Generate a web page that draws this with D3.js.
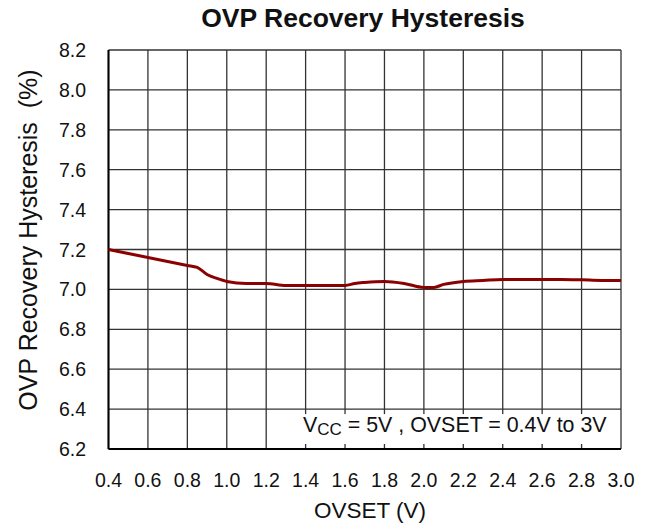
<!DOCTYPE html>
<html><head><meta charset="utf-8">
<script src="https://cdn.jsdelivr.net/npm/d3@7"></script>
<style>body{margin:0;background:#fff}svg{display:block}text{font-family:"Liberation Sans",Arial,sans-serif}</style>
</head><body>
<script>
const ovset = [0.4,0.5,0.6,0.7,0.75,0.8,0.85,0.9,0.95,1.0,1.1,1.2,1.3,1.4,1.5,1.6,1.65,1.7,1.8,1.9,2.0,2.05,2.1,2.2,2.3,2.4,2.5,2.6,2.7,2.8,2.9,3.0];
const hyst  = [7.20,7.18,7.16,7.14,7.13,7.12,7.11,7.075,7.055,7.04,7.03,7.03,7.02,7.02,7.02,7.02,7.03,7.035,7.04,7.03,7.01,7.01,7.025,7.04,7.045,7.05,7.05,7.05,7.05,7.048,7.045,7.045];
const xTicks = [0.4,0.6,0.8,1.0,1.2,1.4,1.6,1.8,2.0,2.2,2.4,2.6,2.8,3.0];
const yTicks = [6.2,6.4,6.6,6.8,7.0,7.2,7.4,7.6,7.8,8.0,8.2];

const W=653,H=529, L=108.5, R=621, T=50, B=449;
const svg=d3.select("body").append("svg").attr("width",W).attr("height",H);
const x=d3.scaleLinear().domain([0.4,3.0]).range([L,R]);
const y=d3.scaleLinear().domain([6.2,8.2]).range([B,T]);

// grid
svg.append("g").selectAll("line").data(xTicks).join("line")
  .attr("x1",d=>x(d)).attr("x2",d=>x(d)).attr("y1",T).attr("y2",B)
  .attr("stroke","#333").attr("stroke-width",1.3);
svg.append("g").selectAll("line").data(yTicks).join("line")
  .attr("x1",L).attr("x2",R).attr("y1",d=>y(d)).attr("y2",d=>y(d))
  .attr("stroke","#333").attr("stroke-width",1.3);

// annotation box (white) covering grid
svg.append("rect").attr("x",297).attr("y",y(6.4)+5).attr("width",R-297-1.5).attr("height",B-y(6.4)-10).attr("fill","#fff");

// axes lines
svg.append("line").attr("x1",L).attr("x2",L).attr("y1",T).attr("y2",B).attr("stroke","#000").attr("stroke-width",2);
svg.append("line").attr("x1",L).attr("x2",R).attr("y1",B).attr("y2",B).attr("stroke","#000").attr("stroke-width",2);

// tick labels
svg.append("g").selectAll("text").data(xTicks).join("text")
  .attr("x",d=>x(d)).attr("y",487).attr("text-anchor","middle").attr("font-size",19.5).attr("fill","#111")
  .text(d=>d.toFixed(1));
svg.append("g").selectAll("text").data(yTicks).join("text")
  .attr("x",86).attr("y",d=>y(d)+7).attr("text-anchor","end").attr("font-size",19.5).attr("fill","#111")
  .text(d=>d.toFixed(1));

// line
svg.append("path").datum(ovset.map((v,i)=>[v,hyst[i]]))
  .attr("d",d3.line().x(d=>x(d[0])).y(d=>y(d[1])).curve(d3.curveMonotoneX))
  .attr("fill","none").attr("stroke","#8b0000").attr("stroke-width",3);

// annotation text
const ann=svg.append("text").attr("x",303).attr("y",432).attr("font-size",21.4).attr("fill","#111");
ann.append("tspan").text("V");
ann.append("tspan").attr("font-size",17).attr("dy",3).text("CC");
ann.append("tspan").attr("dy",-3).text(" = 5V , OVSET = 0.4V to 3V");

// title & axis labels
svg.append("text").attr("x",363).attr("y",27).attr("text-anchor","middle").attr("font-size",26.5).attr("font-weight","bold").attr("fill","#111").text("OVP Recovery Hysteresis");
svg.append("text").attr("x",370).attr("y",518).attr("text-anchor","middle").attr("font-size",22.5).attr("fill","#111").text("OVSET (V)");
svg.append("text").attr("transform","translate(37,240) rotate(-90)").attr("text-anchor","middle").attr("font-size",25).attr("fill","#111").attr("xml:space","preserve").text("OVP Recovery Hysteresis  (%)");
</script>
</body></html>
